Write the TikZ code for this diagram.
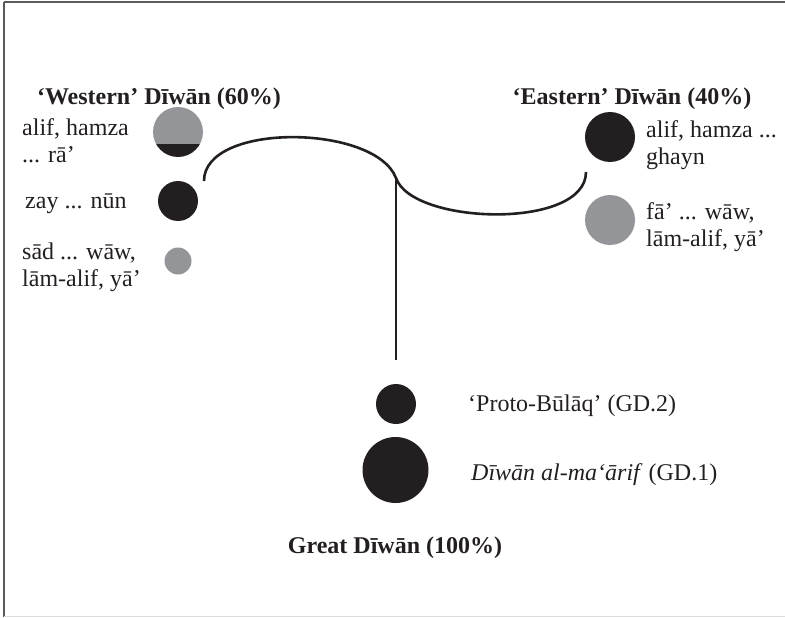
\documentclass[tikz,border=0pt]{standalone}
\usepackage{fontspec}
\setmainfont{Liberation Serif}
\definecolor{ink}{HTML}{231F20}
\definecolor{grayfill}{HTML}{939598}
\definecolor{framedark}{HTML}{5A5A5A}
\definecolor{framelight}{HTML}{DDDDDD}
\begin{document}
\begin{tikzpicture}[x=1pt,y=-1pt,
  lbl/.style={anchor=base west,inner sep=0pt,align=left,font=\fontsize{24}{27}\selectfont,text=ink},
  ttl/.style={anchor=base,inner sep=0pt,font=\fontsize{24}{27}\selectfont\bfseries,text=ink},
  blackdot/.style={circle,fill=ink,inner sep=0pt,draw=none},
  graydot/.style={circle,fill=grayfill,inner sep=0pt,draw=none},
  branch/.style={draw=ink,line width=2.6pt}]
\useasboundingbox (0,0) rectangle (785,618);
% frame
\draw[framedark,line width=1.5pt] (4,2) -- (785,2);
\draw[framedark,line width=1.5pt] (4,2) -- (4,617);
\draw[framelight,line width=1.5pt] (4,616.5) -- (785,616.5);

% titles
\node[ttl] (west) at (159,105) {‘Western’ Dīwān (60\%)};
\node[ttl] (east) at (632,105) {‘Eastern’ Dīwān (40\%)};
\node[ttl] (great) at (395,553) {Great Dīwān (100\%)};

% western circles
\begin{scope}
  \clip (178,132) circle (25);
  \fill[grayfill] (150,100) rectangle (210,144);
  \fill[ink] (150,144) rectangle (210,160);
\end{scope}
\node[circle,minimum size=50pt,inner sep=0pt] (w1) at (178,132) {};
\node[blackdot,minimum size=40pt] (w2) at (178,201) {};
\node[graydot,minimum size=27pt] (w3) at (178,261) {};

\node[lbl] (tw1) at (22,162) {alif, hamza\\... rā’};
\node[lbl] (tw2) at (25,208) {zay ... nūn};
\node[lbl] (tw3) at (22,286) {sād ... wāw,\\lām-alif, yā’};

% eastern circles
\node[blackdot,minimum size=50pt] (e1) at (610,137) {};
\node[graydot,minimum size=50pt] (e2) at (610,220) {};
\node[lbl] (te1) at (646,164) {alif, hamza ...\\ghayn};
\node[lbl] (te2) at (646,246) {fā’ ... wāw,\\lām-alif, yā’};

% great diwan circles
\node[blackdot,minimum size=40pt] (g2) at (396,404) {};
\node[blackdot,minimum size=66pt] (g1) at (395.5,470) {};
\node[lbl] (tg2) at (468,411) {‘Proto-Būlāq’ (GD.2)};
\node[lbl] (tg1) at (471,480) {\textit{Dīwān al-ma‘ārif} (GD.1)};

% branching line
\coordinate (wend) at (204,181);
\coordinate (junc) at (396,178);
\coordinate (eend) at (586,172);
\coordinate (stem) at (396,360);
\draw[branch] (wend) .. controls (204,122) and (375,124) .. (junc)
  .. controls (412,225) and (586,230) .. (eend);
\draw[branch] (junc) -- (stem);
\end{tikzpicture}
\end{document}
